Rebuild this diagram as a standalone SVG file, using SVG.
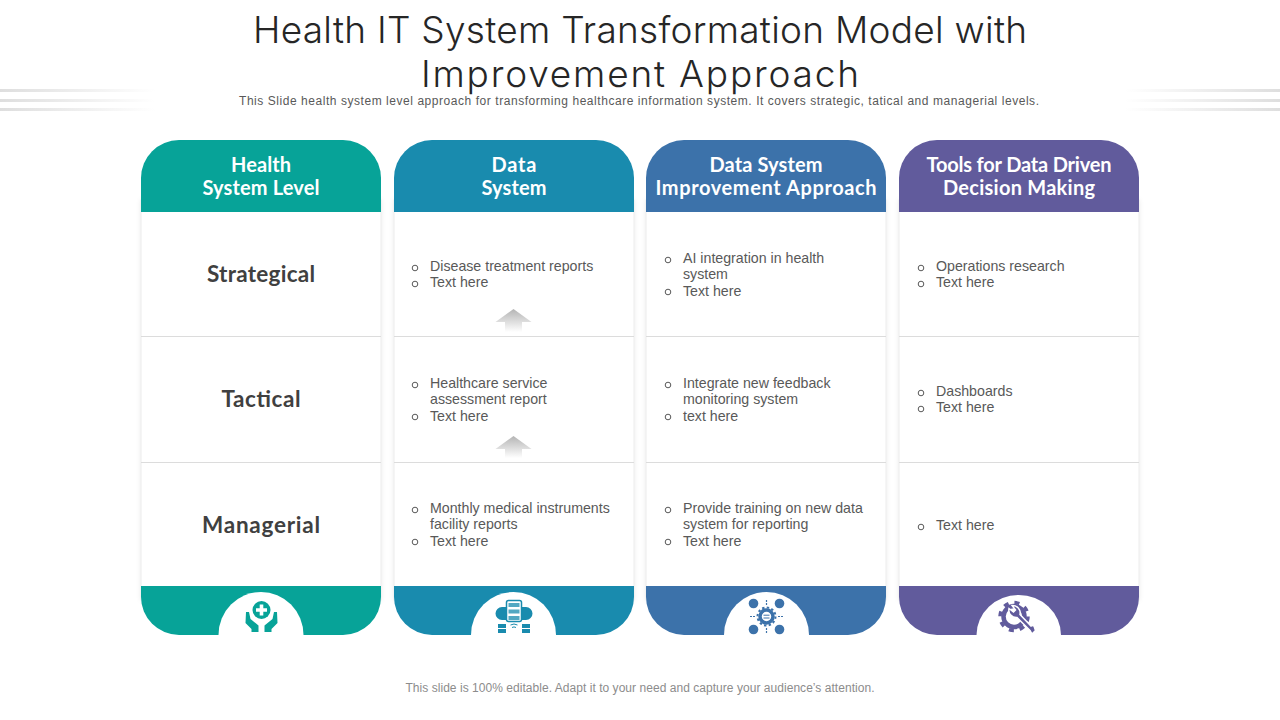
<svg xmlns="http://www.w3.org/2000/svg" width="1280" height="720" viewBox="0 0 1280 720">
<style>
.title{font-family:"Inter","Liberation Sans",sans-serif;font-weight:300;font-size:37px;fill:#262626;text-anchor:middle}
.sub{font-family:"Liberation Sans",Arial,sans-serif;font-size:12px;fill:#595959}
.foot{font-family:"Liberation Sans",Arial,sans-serif;font-size:12px;fill:#8c8c8c;text-anchor:middle}
.hd{font-family:"Lato","Liberation Sans",sans-serif;font-weight:700;font-size:20px;fill:#fff;text-anchor:middle}
.lv{font-family:"Lato","Liberation Sans",sans-serif;font-weight:700;font-size:22.500px;fill:#404040;text-anchor:middle}
.t{font-family:"Liberation Sans",Arial,sans-serif;font-size:14.200px;fill:#595959}
.b{fill:none;stroke:#595959;stroke-width:1}
.card{fill:#fff;stroke:#ececec;stroke-width:1}
.div{stroke:#dcdcdc;stroke-width:1}
.hole{fill:#fff}
.c1{fill:#07a398}.c2{fill:#198bae}.c3{fill:#3c72aa}.c4{fill:#615b9c}
</style>
<defs>
<linearGradient id="fadeL" x1="0" x2="1" y1="0" y2="0"><stop offset="0" stop-color="#dedede"/><stop offset="1" stop-color="#dedede" stop-opacity="0"/></linearGradient>
<linearGradient id="fadeR" x1="1" x2="0" y1="0" y2="0"><stop offset="0" stop-color="#dedede"/><stop offset="1" stop-color="#dedede" stop-opacity="0"/></linearGradient>
<linearGradient id="arr" x1="0" x2="0" y1="0" y2="1"><stop offset="0" stop-color="#b4b4b4"/><stop offset="1" stop-color="#b4b4b4" stop-opacity="0"/></linearGradient>
<filter id="sh" x="-5%" y="-5%" width="110%" height="110%"><feDropShadow dx="0" dy="0" stdDeviation="2" flood-color="#000" flood-opacity="0.08"/></filter>
</defs>
<g id="deco">
<rect x="0" y="89" width="155" height="3" fill="url(#fadeL)"/><rect x="0" y="99" width="155" height="3" fill="url(#fadeL)"/><rect x="0" y="108" width="155" height="3" fill="url(#fadeL)"/>
<rect x="1125" y="89" width="155" height="3" fill="url(#fadeR)"/><rect x="1125" y="99" width="155" height="3" fill="url(#fadeR)"/><rect x="1125" y="108" width="155" height="3" fill="url(#fadeR)"/>
</g>
<g id="heading">
<text class="title" x="640" y="43" textLength="774" lengthAdjust="spacing">Health IT System Transformation Model with</text>
<text class="title" x="640" y="87" textLength="438" lengthAdjust="spacing">Improvement Approach</text>
<text class="sub" x="239" y="105" textLength="800" lengthAdjust="spacing">This Slide health system level approach for transforming healthcare information system. It covers strategic, tatical and managerial levels.</text>
</g>
<g id="col1">
<rect class="card" x="141" y="200" width="240" height="400" filter="url(#sh)"/>
<path class="c1" d="M141 212V178a38 38 0 0 1 38-38H343a38 38 0 0 1 38 38V212Z"/>
<path class="c1" d="M141 586H381V597a38 38 0 0 1-38 38H179a38 38 0 0 1-38-38Z"/>
<path class="hole" d="M218.500 635a42.500 43 0 0 1 85 0Z"/>
<line class="div" x1="141" x2="381" y1="336.500" y2="336.500"/><line class="div" x1="141" x2="381" y1="462.500" y2="462.500"/>
<text class="hd" x="261" y="172" textLength="60">Health</text><text class="hd" x="261" y="195" textLength="117">System Level</text>
<text class="lv" x="261" y="282" textLength="108">Strategical</text><text class="lv" x="261" y="407" textLength="79">Tactical</text><text class="lv" x="261" y="533" textLength="118">Managerial</text>
<g id="icon1">
<circle class="c1" cx="261.500" cy="610" r="9"/><path d="M259.700 604.500h3.600v3.700H267v3.600h-3.700v3.700h-3.600v-3.700H256v-3.600h3.700Z" fill="#fff"/>
<path class="c1" d="M246 612l3 0 1.500 7 8 6.500v6.500h-7v-3l-6-6ZM277 612l-3 0-1.500 7-8 6.500v6.500h7v-3l6-6Z"/>
</g>
</g>
<g id="col2">
<rect class="card" x="394" y="200" width="240" height="400" filter="url(#sh)"/>
<path class="c2" d="M394 212V178a38 38 0 0 1 38-38H596a38 38 0 0 1 38 38V212Z"/>
<path class="c2" d="M394 586H634V597a38 38 0 0 1-38 38H432a38 38 0 0 1-38-38Z"/>
<path class="hole" d="M471 635a42.500 43 0 0 1 85 0Z"/>
<line class="div" x1="394" x2="634" y1="336.500" y2="336.500"/><line class="div" x1="394" x2="634" y1="462.500" y2="462.500"/>
<text class="hd" x="514" y="172" textLength="45">Data</text><text class="hd" x="514" y="195" textLength="65">System</text>
<circle class="b" cx="415" cy="268" r="2.800"/><circle class="b" cx="415" cy="284" r="2.800"/>
<text class="t" x="430" y="271">Disease treatment reports</text><text class="t" x="430" y="287">Text here</text>
<circle class="b" cx="415" cy="385" r="2.800"/><circle class="b" cx="415" cy="417" r="2.800"/>
<text class="t" x="430" y="388">Healthcare service</text><text class="t" x="430" y="404">assessment report</text><text class="t" x="430" y="421">Text here</text>
<circle class="b" cx="415" cy="510" r="2.800"/><circle class="b" cx="415" cy="542" r="2.800"/>
<text class="t" x="430" y="513">Monthly medical instruments</text><text class="t" x="430" y="529">facility reports</text><text class="t" x="430" y="546">Text here</text>
<path d="M513.500 309l18 13h-9.500v10h-17v-10h-9.500Z" fill="url(#arr)"/>
<path d="M513.500 436l18 13h-9.500v9h-17v-9h-9.500Z" fill="url(#arr)"/>
<g id="icon2">
<path class="c2" d="M502 607a6.500 6.500 0 0 0 0 13h5v-13ZM526 607a6.500 6.500 0 0 1 0 13h-5v-13Z"/>
<rect x="506.500" y="600.500" width="15" height="21" rx="2" fill="#fff" stroke="#198bae" stroke-width="1.500"/>
<rect class="c2" x="508.500" y="603" width="11" height="4" fill-opacity=".75"/><rect class="c2" x="508.500" y="609.500" width="11" height="4" fill-opacity=".75"/><rect class="c2" x="508.500" y="616" width="11" height="4" fill-opacity=".75"/>
<rect class="c2" x="498" y="624" width="8" height="4"/><rect class="c2" x="498" y="629" width="8" height="4"/>
<rect class="c2" x="522" y="624" width="8" height="4"/><rect class="c2" x="522" y="629" width="8" height="4"/>
<path d="M510.500 625q3.500-2 7 0M512 627.500q2-1.200 4 0" fill="none" stroke="#198bae"/>
</g>
</g>
<g id="col3">
<rect class="card" x="646" y="200" width="240" height="400" filter="url(#sh)"/>
<path class="c3" d="M646 212V178a38 38 0 0 1 38-38H848a38 38 0 0 1 38 38V212Z"/>
<path class="c3" d="M646 586H886V597a38 38 0 0 1-38 38H684a38 38 0 0 1-38-38Z"/>
<path class="hole" d="M724 635a42.500 43 0 0 1 85 0Z"/>
<line class="div" x1="646" x2="886" y1="336.500" y2="336.500"/><line class="div" x1="646" x2="886" y1="462.500" y2="462.500"/>
<text class="hd" x="766" y="172" textLength="113">Data System</text><text class="hd" x="766" y="195" textLength="221">Improvement Approach</text>
<circle class="b" cx="668" cy="260" r="2.800"/><circle class="b" cx="668" cy="292" r="2.800"/>
<text class="t" x="683" y="263">AI integration in health</text><text class="t" x="683" y="279">system</text><text class="t" x="683" y="296">Text here</text>
<circle class="b" cx="668" cy="385" r="2.800"/><circle class="b" cx="668" cy="417" r="2.800"/>
<text class="t" x="683" y="388">Integrate new feedback</text><text class="t" x="683" y="404">monitoring system</text><text class="t" x="683" y="421">text here</text>
<circle class="b" cx="668" cy="510" r="2.800"/><circle class="b" cx="668" cy="542" r="2.800"/>
<text class="t" x="683" y="513">Provide training on new data</text><text class="t" x="683" y="529">system for reporting</text><text class="t" x="683" y="546">Text here</text>
<g id="icon3">
<circle class="c3" cx="753.500" cy="603.500" r="4.800"/><circle class="c3" cx="779.500" cy="603.500" r="4.800"/><circle class="c3" cx="753.500" cy="629.500" r="4.800"/><circle class="c3" cx="779.500" cy="629.500" r="4.800"/>
<circle cx="766.500" cy="616.500" r="6.500" fill="#fff" stroke="#3c72aa" stroke-width="3.500"/>
<circle cx="766.500" cy="616.500" r="9" fill="none" stroke="#3c72aa" stroke-width="2" stroke-dasharray="2.400 2.310"/>
<path d="M763.500 615.200h6M763.500 618h6" stroke="#3c72aa"/>
<path d="M766.500 600v5M766.500 628v5M750 616.500h5M778 616.500h5" stroke="#3c72aa" stroke-width="1.200" stroke-dasharray="2 1"/>
</g>
</g>
<g id="col4">
<rect class="card" x="899" y="200" width="240" height="400" filter="url(#sh)"/>
<path class="c4" d="M899 212V178a38 38 0 0 1 38-38H1101a38 38 0 0 1 38 38V212Z"/>
<path class="c4" d="M899 586H1139V597a38 38 0 0 1-38 38H937a38 38 0 0 1-38-38Z"/>
<path class="hole" d="M976.500 635a42.250 40 0 0 1 84.500 0Z"/>
<line class="div" x1="899" x2="1139" y1="336.500" y2="336.500"/><line class="div" x1="899" x2="1139" y1="462.500" y2="462.500"/>
<text class="hd" x="1019" y="172" textLength="185">Tools for Data Driven</text><text class="hd" x="1019" y="195" textLength="152">Decision Making</text>
<circle class="b" cx="921" cy="268" r="2.800"/><circle class="b" cx="921" cy="284" r="2.800"/>
<text class="t" x="936" y="271">Operations research</text><text class="t" x="936" y="287">Text here</text>
<circle class="b" cx="921" cy="393" r="2.800"/><circle class="b" cx="921" cy="409" r="2.800"/>
<text class="t" x="936" y="396">Dashboards</text><text class="t" x="936" y="412">Text here</text>
<circle class="b" cx="921" cy="527" r="2.800"/>
<text class="t" x="936" y="530">Text here</text>
<g id="icon4">
<circle cx="1014" cy="616.500" r="10.500" fill="none" stroke="#615b9c" stroke-width="4.500"/>
<circle cx="1014" cy="616.500" r="14" fill="none" stroke="#615b9c" stroke-width="3.500" stroke-dasharray="5 6"/>
<path d="M1009 608.500l4.500 3.500 2-2-3.500-4.500a7.500 7.500 0 0 1 8 9l11 11.500a3 3 0 0 1 3 0l1.500 4.500-3.500 3.500-2-3.500-13-13a7.500 7.500 0 0 1-8-9Z" fill="#615b9c" stroke="#fff" stroke-width="1.500"/>
</g>
</g>
<text class="foot" x="640" y="692" textLength="469" lengthAdjust="spacing">This slide is 100% editable. Adapt it to your need and capture your audience’s attention.</text>
</svg>
